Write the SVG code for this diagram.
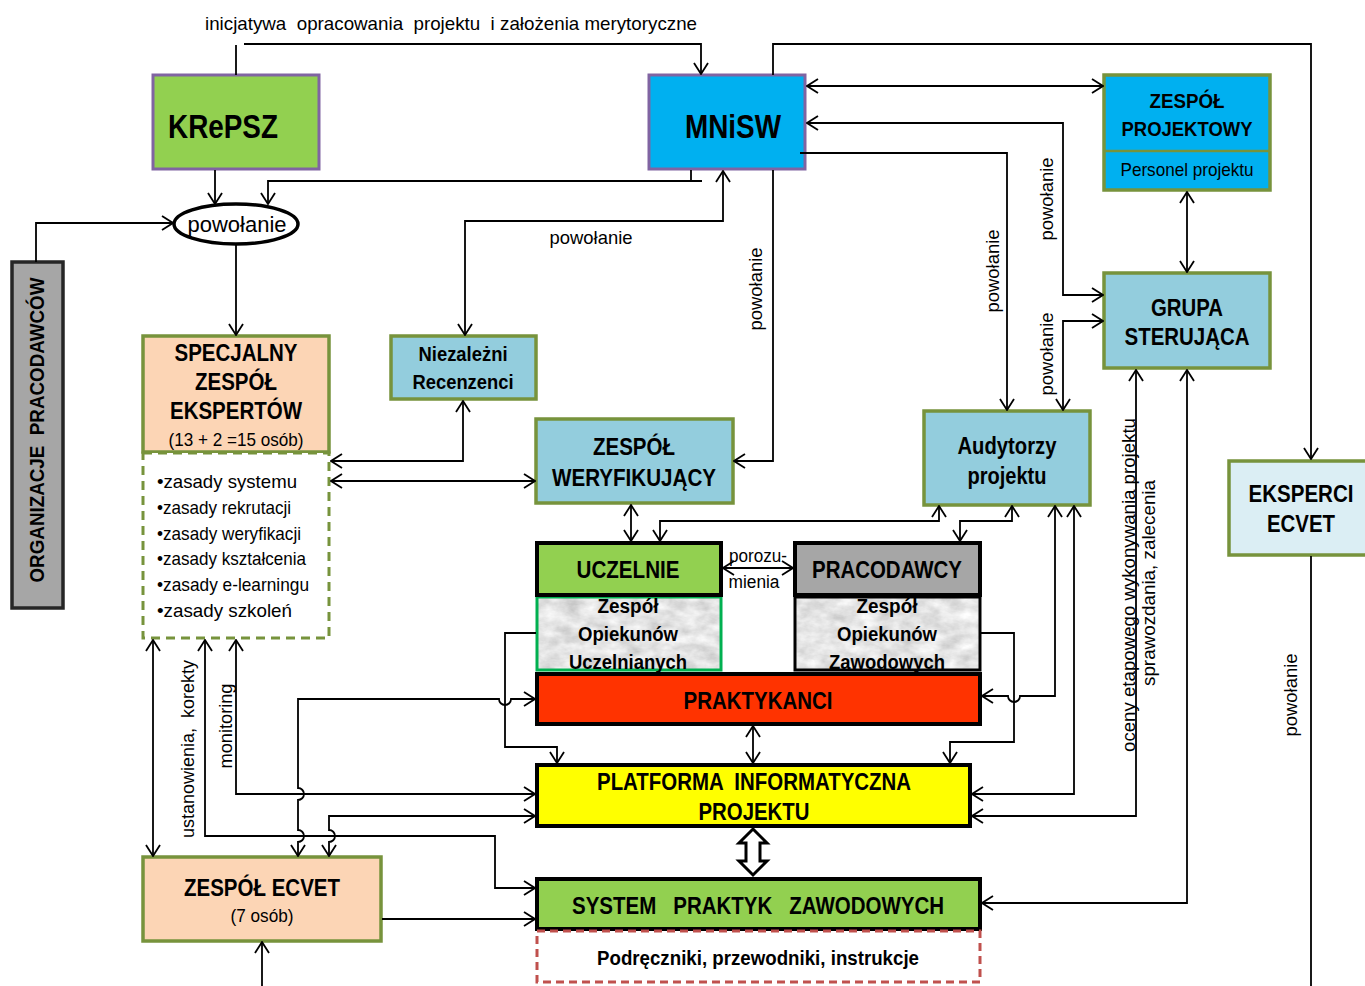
<svg xmlns="http://www.w3.org/2000/svg" width="1365" height="986" viewBox="0 0 1365 986">
<style>
.t{font-family:"Liberation Sans",Arial,sans-serif;text-anchor:middle;fill:#000}
.b{font-weight:bold}
.pre{white-space:pre}
.ln{fill:none;stroke:#000;stroke-width:1.8}
.ar{marker-end:url(#a)}
.ar2{marker-start:url(#a);marker-end:url(#a)}
.olive{stroke:#77933C;stroke-width:3.5}
.blk{stroke:#000;stroke-width:4}
.lb{fill:#93CDDD}
</style>
<defs>
<marker id="a" viewBox="0 0 13 16" refX="12" refY="8" markerWidth="13" markerHeight="16" markerUnits="userSpaceOnUse" orient="auto-start-reverse">
<path d="M1,1 L12,8 L1,15" fill="none" stroke="#000" stroke-width="1.8"/>
</marker>
<filter id="marble" x="0" y="0" width="1" height="1">
<feTurbulence type="fractalNoise" baseFrequency="0.05 0.09" numOctaves="4" seed="3" result="n"/>
<feColorMatrix in="n" type="matrix" values="0.55 0 0 0 0.5  0.55 0 0 0 0.5  0.55 0 0 0 0.5  0 0 0 0 1" result="g"/>
<feComposite in="g" in2="SourceGraphic" operator="in"/>
</filter>
</defs>

<g id="top-label">
<text class="t pre" x="451" y="30" font-size="19" textLength="492" lengthAdjust="spacingAndGlyphs">inicjatywa  opracowania  projektu  i założenia merytoryczne</text>
</g>

<g id="krepsz">
<rect x="153" y="75" width="166" height="94" fill="#92D050" stroke="#8064A2" stroke-width="3"/>
<text class="t b" x="223" y="138" font-size="33" textLength="110" lengthAdjust="spacingAndGlyphs">KRePSZ</text>
</g>

<g id="mnisw">
<rect x="649" y="75" width="156" height="94" fill="#00B0F0" stroke="#8064A2" stroke-width="3"/>
<text class="t b" x="733" y="138" font-size="33" textLength="96" lengthAdjust="spacingAndGlyphs">MNiSW</text>
</g>

<g id="powolanie-ellipse">
<ellipse cx="236" cy="224" rx="62" ry="20" fill="#fff" stroke="#000" stroke-width="3.5"/>
<text class="t" x="237" y="232" font-size="22" textLength="99" lengthAdjust="spacingAndGlyphs">powołanie</text>
</g>

<g id="organizacje">
<rect x="12" y="262" width="51" height="346" fill="#A6A6A6" stroke="#262626" stroke-width="3.5"/>
<text class="t b pre" transform="translate(37,430) rotate(-90)" x="0" y="7" font-size="20" textLength="305" lengthAdjust="spacingAndGlyphs">ORGANIZACJE  PRACODAWCÓW</text>
</g>

<g id="specjalny">
<rect x="143" y="336" width="186" height="116" fill="#FCD5B5" class="olive"/>
<text class="t b" x="236" y="361" font-size="23" textLength="123" lengthAdjust="spacingAndGlyphs">SPECJALNY</text>
<text class="t b" x="236" y="390" font-size="23" textLength="82" lengthAdjust="spacingAndGlyphs">ZESPÓŁ</text>
<text class="t b" x="236" y="419" font-size="23" textLength="132" lengthAdjust="spacingAndGlyphs">EKSPERTÓW</text>
<text class="t" x="236" y="446" font-size="19" textLength="135" lengthAdjust="spacingAndGlyphs">(13 + 2 =15 osób)</text>
</g>

<g id="zasady">
<rect x="143" y="453" width="186" height="185" fill="#fff" stroke="#77933C" stroke-width="3" stroke-dasharray="9,6"/>
<g class="t" font-size="19" style="text-anchor:start">
<text x="157" y="488" textLength="140" lengthAdjust="spacingAndGlyphs">•zasady systemu</text>
<text x="157" y="514" textLength="134" lengthAdjust="spacingAndGlyphs">•zasady rekrutacji</text>
<text x="157" y="540" textLength="144" lengthAdjust="spacingAndGlyphs">•zasady weryfikacji</text>
<text x="157" y="565" textLength="149" lengthAdjust="spacingAndGlyphs">•zasady kształcenia</text>
<text x="157" y="591" textLength="152" lengthAdjust="spacingAndGlyphs">•zasady e-learningu</text>
<text x="157" y="617" textLength="135" lengthAdjust="spacingAndGlyphs">•zasady szkoleń</text>
</g>
</g>

<g id="niezalezni">
<rect x="391" y="336" width="145" height="63" class="lb olive"/>
<text class="t b" x="463" y="361" font-size="20" textLength="89" lengthAdjust="spacingAndGlyphs">Niezależni</text>
<text class="t b" x="463" y="389" font-size="20" textLength="101" lengthAdjust="spacingAndGlyphs">Recenzenci</text>
</g>

<g id="weryfikujacy">
<rect x="536" y="419" width="197" height="84" class="lb olive"/>
<text class="t b" x="634" y="455" font-size="23" textLength="82" lengthAdjust="spacingAndGlyphs">ZESPÓŁ</text>
<text class="t b" x="634" y="486" font-size="23" textLength="164" lengthAdjust="spacingAndGlyphs">WERYFIKUJĄCY</text>
</g>

<g id="audytorzy">
<rect x="924" y="411" width="166" height="94" class="lb olive"/>
<text class="t b" x="1007" y="454" font-size="23" textLength="99" lengthAdjust="spacingAndGlyphs">Audytorzy</text>
<text class="t b" x="1007" y="484" font-size="23" textLength="79" lengthAdjust="spacingAndGlyphs">projektu</text>
</g>

<g id="zespol-projektowy">
<rect x="1104" y="75" width="166" height="115" fill="#00B0F0" class="olive"/>
<line x1="1104" y1="151" x2="1270" y2="151" stroke="#77933C" stroke-width="2.5"/>
<text class="t b" x="1187" y="108" font-size="21" textLength="75" lengthAdjust="spacingAndGlyphs">ZESPÓŁ</text>
<text class="t b" x="1187" y="136" font-size="21" textLength="131" lengthAdjust="spacingAndGlyphs">PROJEKTOWY</text>
<text class="t" x="1187" y="176" font-size="19" textLength="133" lengthAdjust="spacingAndGlyphs">Personel projektu</text>
</g>

<g id="grupa-sterujaca">
<rect x="1104" y="273" width="166" height="95" class="lb olive"/>
<text class="t b" x="1187" y="316" font-size="24" textLength="72" lengthAdjust="spacingAndGlyphs">GRUPA</text>
<text class="t b" x="1187" y="345" font-size="24" textLength="125" lengthAdjust="spacingAndGlyphs">STERUJĄCA</text>
</g>

<g id="eksperci-ecvet">
<rect x="1229" y="461" width="140" height="94" fill="#DBEEF4" class="olive"/>
<text class="t b" x="1301" y="502" font-size="23" textLength="105" lengthAdjust="spacingAndGlyphs">EKSPERCI</text>
<text class="t b" x="1301" y="532" font-size="23" textLength="68" lengthAdjust="spacingAndGlyphs">ECVET</text>
</g>

<g id="zespol-opiekunow-uczelnianych">
<rect x="536" y="596" width="186" height="75" fill="#ccc" filter="url(#marble)"/>
<rect x="537" y="597" width="184" height="73" fill="none" stroke="#00B050" stroke-width="3"/>
<text class="t b" x="628" y="613" font-size="20" textLength="61" lengthAdjust="spacingAndGlyphs">Zespół</text>
<text class="t b" x="628" y="641" font-size="20" textLength="100" lengthAdjust="spacingAndGlyphs">Opiekunów</text>
<text class="t b" x="628" y="669" font-size="20" textLength="118" lengthAdjust="spacingAndGlyphs">Uczelnianych</text>
</g>

<g id="zespol-opiekunow-zawodowych">
<rect x="794" y="596" width="187" height="75" fill="#ccc" filter="url(#marble)"/>
<rect x="795" y="597" width="185" height="73" fill="none" stroke="#000" stroke-width="3"/>
<text class="t b" x="887" y="613" font-size="20" textLength="61" lengthAdjust="spacingAndGlyphs">Zespół</text>
<text class="t b" x="887" y="641" font-size="20" textLength="100" lengthAdjust="spacingAndGlyphs">Opiekunów</text>
<text class="t b" x="887" y="669" font-size="20" textLength="116" lengthAdjust="spacingAndGlyphs">Zawodowych</text>
</g>

<g id="uczelnie">
<rect x="537" y="543" width="184" height="52" fill="#92D050" class="blk"/>
<text class="t b" x="628" y="578" font-size="23" textLength="103" lengthAdjust="spacingAndGlyphs">UCZELNIE</text>
</g>

<g id="pracodawcy">
<rect x="795" y="543" width="185" height="52" fill="#A6A6A6" class="blk"/>
<text class="t b" x="887" y="578" font-size="23" textLength="150" lengthAdjust="spacingAndGlyphs">PRACODAWCY</text>
</g>

<g id="porozumienia">
<text class="t" x="758" y="562" font-size="18" textLength="58" lengthAdjust="spacingAndGlyphs">porozu-</text>
<text class="t" x="754" y="588" font-size="18" textLength="51" lengthAdjust="spacingAndGlyphs">mienia</text>
</g>

<g id="praktykanci">
<rect x="537" y="674" width="443" height="50" fill="#FF3300" class="blk"/>
<text class="t b" x="758" y="709" font-size="23" textLength="149" lengthAdjust="spacingAndGlyphs">PRAKTYKANCI</text>
</g>

<g id="platforma">
<rect x="537" y="765" width="433" height="61" fill="#FFFF00" class="blk"/>
<text class="t b pre" x="754" y="790" font-size="23" textLength="314" lengthAdjust="spacingAndGlyphs">PLATFORMA  INFORMATYCZNA</text>
<text class="t b" x="754" y="820" font-size="23" textLength="111" lengthAdjust="spacingAndGlyphs">PROJEKTU</text>
</g>

<g id="system-praktyk">
<rect x="537" y="879" width="443" height="50" fill="#92D050" class="blk"/>
<text class="t b pre" x="758" y="914" font-size="23" textLength="372" lengthAdjust="spacingAndGlyphs">SYSTEM   PRAKTYK   ZAWODOWYCH</text>
</g>

<g id="podreczniki">
<rect x="537" y="931" width="443" height="51" fill="#fff" stroke="#C0504D" stroke-width="3" stroke-dasharray="8,5"/>
<text class="t b" x="758" y="965" font-size="20" textLength="322" lengthAdjust="spacingAndGlyphs">Podręczniki, przewodniki, instrukcje</text>
</g>

<g id="zespol-ecvet">
<rect x="143" y="857" width="238" height="84" fill="#FCD5B5" class="olive"/>
<text class="t b" x="262" y="896" font-size="23" textLength="156" lengthAdjust="spacingAndGlyphs">ZESPÓŁ ECVET</text>
<text class="t" x="262" y="922" font-size="19" textLength="63" lengthAdjust="spacingAndGlyphs">(7 osób)</text>
</g>

<g id="connectors">
<path class="ln" d="M236,45 V75"/>
<path class="ln ar" d="M244,44 H701 V74"/>
<path class="ln ar" d="M215,170 V204"/>
<path class="ln" d="M691,170 V181"/>
<path class="ln ar" d="M702,181 H268 V204"/>
<path class="ln ar" d="M36,262 V223 H173"/>
<path class="ln ar" d="M236,245 V335"/>
<path class="ln ar2" d="M723,171 V221 H465 V335"/>
<path class="ln ar2" d="M463,401 V461 H331"/>
<path class="ln ar2" d="M331,481 H535"/>
<path class="ln ar" d="M773,170 V461 H734"/>
<path class="ln ar" d="M773,75 V44 H1311 V459"/>
<path class="ln ar2" d="M807,86 H1103"/>
<path class="ln ar2" d="M807,123 H1063 V295 H1103"/>
<path class="ln ar" d="M800,153 H1007 V410"/>
<path class="ln ar2" d="M1063,410 V321 H1103"/>
<path class="ln ar2" d="M1187,192 V272"/>
<path class="ln ar2" d="M1136,370 V816 H972"/>
<path class="ln ar2" d="M1187,370 V903 H982"/>
<path class="ln" d="M1311,556 V986"/>
<path class="ln ar2" d="M631,505 V541"/>
<path class="ln ar2" d="M660,541 V521 H939 V506"/>
<path class="ln ar2" d="M960,541 V521 H1012 V506"/>
<path class="ln ar2" d="M1055,506 V696 H1020 a6,6 0 0 1 -12,0 H982"/>
<path class="ln ar2" d="M1074,506 V794 H972"/>
<path class="ln ar" d="M981,633 H1014 V742 H950 V763" stroke-width="1.5"/>
<path class="ln ar" d="M536,633 H505 V747 H557 V763" stroke-width="1.5"/>
<path class="ln ar2" d="M298,856 V842 a6,6 0 0 0 0,-12 V800 a6,6 0 0 0 0,-12 V699 H499 a6,6 0 0 0 12,0 H535"/>
<path class="ln ar2" d="M236,640 V794 H535"/>
<path class="ln ar2" d="M329,856 V842 a6,6 0 0 0 0,-12 V816 H535"/>
<path class="ln ar2" d="M205,640 V836 H495 V888 H535"/>
<path class="ln ar2" d="M153,640 V856"/>
<path class="ln ar" d="M382,919 H535"/>
<path class="ln ar" d="M262,986 V942"/>
<path class="ln ar2" d="M753,726 V763"/>
<path class="ln ar2" d="M723,568 H793"/>
<polygon points="753,829 767,843 760,843 760,861 767,861 753,875 739,861 746,861 746,843 739,843" fill="#fff" stroke="#000" stroke-width="3" stroke-linejoin="miter"/>
</g>

<g id="connector-labels">
<text class="t" x="591" y="244" font-size="19" textLength="83" lengthAdjust="spacingAndGlyphs">powołanie</text>
<text class="t" transform="translate(755,289) rotate(-90)" x="0" y="7" font-size="19" textLength="83" lengthAdjust="spacingAndGlyphs">powołanie</text>
<text class="t" transform="translate(992,271) rotate(-90)" x="0" y="7" font-size="19" textLength="83" lengthAdjust="spacingAndGlyphs">powołanie</text>
<text class="t" transform="translate(1046,199) rotate(-90)" x="0" y="7" font-size="19" textLength="83" lengthAdjust="spacingAndGlyphs">powołanie</text>
<text class="t" transform="translate(1046,354) rotate(-90)" x="0" y="7" font-size="19" textLength="83" lengthAdjust="spacingAndGlyphs">powołanie</text>
<text class="t" transform="translate(1290,695) rotate(-90)" x="0" y="7" font-size="19" textLength="83" lengthAdjust="spacingAndGlyphs">powołanie</text>
<text class="t" transform="translate(1128,585) rotate(-90)" x="0" y="7" font-size="19" textLength="334" lengthAdjust="spacingAndGlyphs">oceny etapowego wykonywania projektu</text>
<text class="t" transform="translate(1148,583) rotate(-90)" x="0" y="7" font-size="19" textLength="206" lengthAdjust="spacingAndGlyphs">sprawozdania, zalecenia</text>
<text class="t pre" transform="translate(187,749) rotate(-90)" x="0" y="7" font-size="19" textLength="178" lengthAdjust="spacingAndGlyphs">ustanowienia,  korekty</text>
<text class="t" transform="translate(225,726) rotate(-90)" x="0" y="7" font-size="19" textLength="85" lengthAdjust="spacingAndGlyphs">monitoring</text>
</g>
</svg>
